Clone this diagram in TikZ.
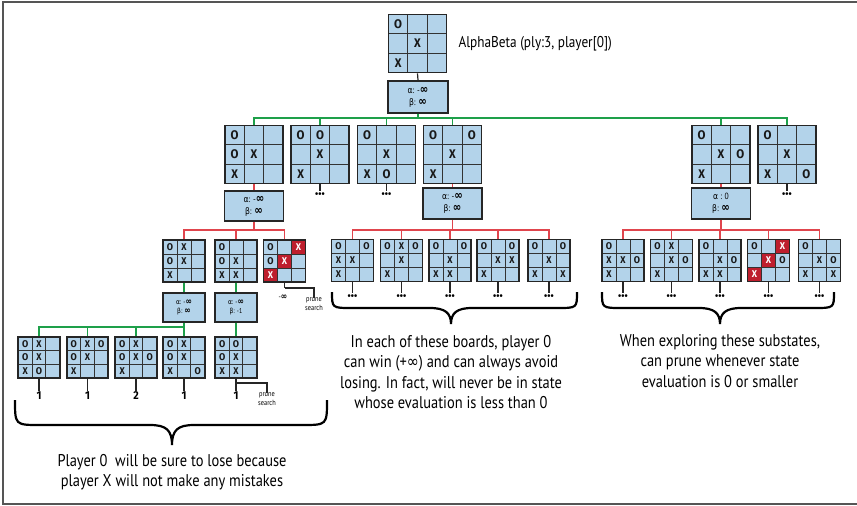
\documentclass[tikz,border=0pt]{standalone}
\usepackage{fontspec}
\setmainfont{PT Sans}[FakeStretch=0.85]
\newfontfamily\symf{DejaVu Sans}[FakeStretch=0.85]
\newfontfamily\bfont{Fira Sans}[FakeStretch=0.92]
\definecolor{xblue}{HTML}{B3D3EA}
\definecolor{xred}{HTML}{BE1E2D}
\definecolor{xgreen}{HTML}{1EA04A}
\definecolor{xredline}{HTML}{E0454D}
\definecolor{framegray}{HTML}{555555}
\newcommand\cellsym[1]{\if#1OO\else\if#1XX\else\if#1R\textcolor{white}{X}\fi\fi\fi}
% name, x, y, cell size, font style, list
\newcommand\tttboard[6]{%
  \foreach \c [count=\i from 0] in {#6} {
    \pgfmathtruncatemacro\bcol{mod(\i,3)}
    \pgfmathtruncatemacro\brow{div(\i,3)}
    \if\c R\def\cf{xred}\else\def\cf{xblue}\fi
    \node[cell, #5, minimum size=#4, fill=\cf] (#1-\i) at ({#2+(\bcol-1)*#4},{#3+(\brow-1)*#4}) {\cellsym\c};
  }
  \node[boardframe, minimum size=3*#4] (#1) at (#2,#3) {};
}
\newcommand\ab[2]{{\symf α}: #1\\{\symf β}: #2}
\newcommand\infy{{\symf ∞}}
\newcommand\binf{{\symf\bfseries\fontsize{12}{11}\selectfont ∞}}
\newcommand\sinf{{\symf\bfseries\fontsize{9}{8}\selectfont ∞}}
\begin{document}
\begin{tikzpicture}[x=1pt,y=-1pt,
 cell/.style={draw=black!80, line width=0.9pt, inner sep=0pt, text=black!90},
 bigcell/.style={font=\bfont\bfseries\fontsize{12.5}{12}\selectfont},
 smallcell/.style={font=\bfont\bfseries\fontsize{9.8}{10}\selectfont},
 boardframe/.style={draw=black!85, line width=1.8pt, inner sep=0pt},
 abbox/.style={draw=black!85, line width=1.8pt, fill=xblue, inner sep=0pt, align=center, font=\fontsize{9}{12}\selectfont},
 abtiny/.style={abbox, line width=1.5pt, font=\fontsize{7}{9}\selectfont},
 gline/.style={draw=xgreen, line width=1.4pt},
 rline/.style={draw=xredline, line width=1.4pt},
 kline/.style={draw=black!85, line width=1.2pt},
 dots/.style={font=\bfont\bfseries\fontsize{10}{10}\selectfont, inner sep=1pt},
 num/.style={font=\bfont\bfseries\fontsize{11.5}{11}\selectfont, inner sep=1pt},
 note/.style={align=center, font=\fontsize{17}{20.5}\selectfont},
 brace/.style={draw=black, line width=2.2pt},
 small/.style={align=center, font=\fontsize{7.5}{8.5}\selectfont, inner sep=0pt}
]
\useasboundingbox (0,0) rectangle (857,506);
\draw[framegray, line width=1.5pt] (857,2) -- (3,2) -- (3,504) -- (857,504);

% root
\tttboard{r}{417.5}{43.5}{19.3}{bigcell}{O,E,E,E,X,E,X,E,E}
\node[anchor=west, font=\fontsize{15.6}{15}\selectfont] (title) at (455,44) {AlphaBeta (ply:3, player[0])};
\node[abbox, minimum width=60, minimum height=32] (rbox) at (418,97) {\ab{-\binf}{\binf}};
\draw[kline] (r.south) -- (rbox.north);
\coordinate (j0) at (rbox.south |- 0,118);
\draw[gline] (rbox.south) -- (j0);

% level 1
\tttboard{b1}{254}{154.5}{19.3}{bigcell}{O,E,E,O,X,E,X,E,E}
\tttboard{b2}{320}{154.5}{19.3}{bigcell}{O,O,E,E,X,E,X,E,E}
\tttboard{b3}{386.5}{154.5}{19.3}{bigcell}{O,E,E,E,X,E,X,O,E}
\tttboard{b4}{452.5}{154.5}{19.3}{bigcell}{O,E,O,E,X,E,X,E,E}
\tttboard{b5}{721}{154.5}{19.3}{bigcell}{O,E,E,E,X,O,X,E,E}
\tttboard{b6}{787}{154.5}{19.3}{bigcell}{O,E,E,E,X,E,X,E,O}
\foreach \b in {b1,b2,b3,b4,b5,b6} \draw[gline] (j0) -| (\b.north);
\foreach \b in {b2,b3,b6} {
  \node[dots] (\b d) at (\b.south |- 0,195) {•••};
  \draw[kline] (\b.south) -- (\b d.north);
}
\node[abbox, minimum width=59, minimum height=30] (b1box) at (254,206) {\ab{-\binf}{\binf}};
\node[abbox, minimum width=59, minimum height=31] (b4box) at (452.5,203.5) {\ab{-\binf}{\binf}};
\node[abbox, minimum width=59, minimum height=31] (b5box) at (721,203.5) {{\symf α} : 0\\{\symf β}: \binf};
\foreach \b in {b1,b4,b5} {
  \draw[rline] (\b.south) -- (\b box.north);
  \coordinate (\b j) at (\b box.south |- 0,230);
  \draw[rline] (\b box.south) -- (\b j);
}

% level 2 under b1
\tttboard{c1}{184}{261}{14}{smallcell}{O,X,E,O,X,E,X,E,E}
\tttboard{c2}{236}{261}{14}{smallcell}{O,E,E,O,X,E,X,X,E}
\tttboard{c3}{284.5}{261}{14}{smallcell}{O,E,R,O,R,E,R,E,E}
\foreach \b in {c1,c2,c3} \draw[rline] (b1j) -| (\b.north);
% level 2 under b4
\tttboard{e1}{352.5}{260.5}{14}{smallcell}{O,E,O,X,X,E,X,E,E}
\tttboard{e2}{401.5}{260.5}{14}{smallcell}{O,X,O,E,X,E,X,E,E}
\tttboard{e3}{450}{260.5}{14}{smallcell}{O,E,O,E,X,E,X,X,E}
\tttboard{e4}{498}{260.5}{14}{smallcell}{O,E,O,E,X,X,X,E,E}
\tttboard{e5}{549}{260.5}{14}{smallcell}{O,E,O,E,X,E,X,E,X}
\foreach \b in {e1,e2,e3,e4,e5} \draw[rline] (b4j) -| (\b.north);
% level 2 under b5
\tttboard{f1}{623}{260.5}{14}{smallcell}{O,E,E,X,X,O,X,E,E}
\tttboard{f2}{671.5}{260.5}{14}{smallcell}{O,X,E,E,X,O,X,E,E}
\tttboard{f3}{720}{260.5}{14}{smallcell}{O,E,E,E,X,O,X,X,E}
\tttboard{f4}{768.5}{260.5}{14}{smallcell}{O,E,R,E,R,O,R,E,E}
\tttboard{f5}{819.5}{260.5}{14}{smallcell}{O,E,E,E,X,O,X,E,X}
\foreach \b in {f1,f2,f3,f4,f5} \draw[rline] (b5j) -| (\b.north);
\foreach \b in {e1,e2,e3,e4,e5,f1,f2,f3,f4,f5} {
  \node[dots] (\b d) at (\b.south |- 0,297) {•••};
  \draw[kline] (\b.south) -- (\b d.north);
}

% c3 pruned
\node[small] (c3v) at (283,297) {-\sinf};
\coordinate (c3j) at (c3.south |- 0,288);
\draw[kline] (c3.south) -- (c3j);
\node[small] (pr1) at (314,304) {prune\\search};
\draw[kline] (c3j) -| (pr1.north);

% boxes level 2
\node[abtiny, minimum width=42, minimum height=29] (c1box) at (184,307.5) {\ab{-\sinf}{\sinf}};
\node[abtiny, minimum width=42, minimum height=29] (c2box) at (236,307.5) {\ab{-\sinf}{-1}};
\draw[gline] (c1.south) -- (c1box.north);
\draw[gline] (c2.south) -- (c2box.north);
\coordinate (c1j) at (c1box.south |- 0,327);
\draw[gline] (c1box.south) -- (c1j);

% level 3
\tttboard{d1}{39}{357.5}{13.8}{smallcell}{O,X,E,O,X,E,X,O,E}
\tttboard{d2}{87.5}{357.5}{13.8}{smallcell}{O,X,O,O,X,E,X,E,E}
\tttboard{d3}{136}{357.5}{13.8}{smallcell}{O,X,E,O,X,O,X,E,E}
\tttboard{d4}{184}{357.5}{13.8}{smallcell}{O,X,E,O,X,E,X,E,O}
\tttboard{d5}{236}{357.5}{13.8}{smallcell}{O,O,E,O,X,E,X,X,E}
\foreach \b in {d1,d2,d3,d4} \draw[gline] (c1j) -| (\b.north);
\draw[gline] (c2box.south) -- (d5.north);
\foreach \b/\v in {d1/1,d2/1,d3/2,d4/1,d5/1} {
  \node[num] (\b n) at (\b.south |- 0,396) {\v};
  \draw[kline] (\b.south) -- (\b n.north);
}
\coordinate (d5j) at (d5.south |- 0,383);
\node[small] (pr2) at (267,399) {prune\\search};
\draw[kline] (d5j) -| (pr2.north);

% braces
\draw[brace] (15,400) .. controls (15,425) and (15,425) .. (40,425) -- (150,425)
  .. controls (166,425) and (172,430) .. (172,445)
  .. controls (172,430) and (178,425) .. (194,425) -- (302,425)
  .. controls (327,425) and (327,425) .. (327,400);
\draw[brace] (332,292) .. controls (332,308) and (332,308) .. (352,308) -- (430,308)
  .. controls (445,308) and (451,313) .. (451,324)
  .. controls (451,313) and (457,308) .. (472,308) -- (557,308)
  .. controls (577,308) and (577,308) .. (577,292);
\draw[brace] (602,292) .. controls (602,308) and (602,308) .. (622,308) -- (699,308)
  .. controls (714,308) and (720,313) .. (720,324)
  .. controls (720,313) and (726,308) .. (741,308) -- (814,308)
  .. controls (834,308) and (834,308) .. (834,292);

% notes
\node[note] (n1) at (172,472) {Player 0~ will be sure to lose because\\player X will not make any mistakes};
\node[note] (n2) at (451,372) {In each of these boards, player 0\\can win (+\infy) and can always avoid\\losing. In fact, will never be in state\\whose evaluation is less than 0};
\node[note] (n3) at (720,361) {When exploring these substates,\\can prune whenever state\\evaluation is 0 or smaller};
\end{tikzpicture}
\end{document}
